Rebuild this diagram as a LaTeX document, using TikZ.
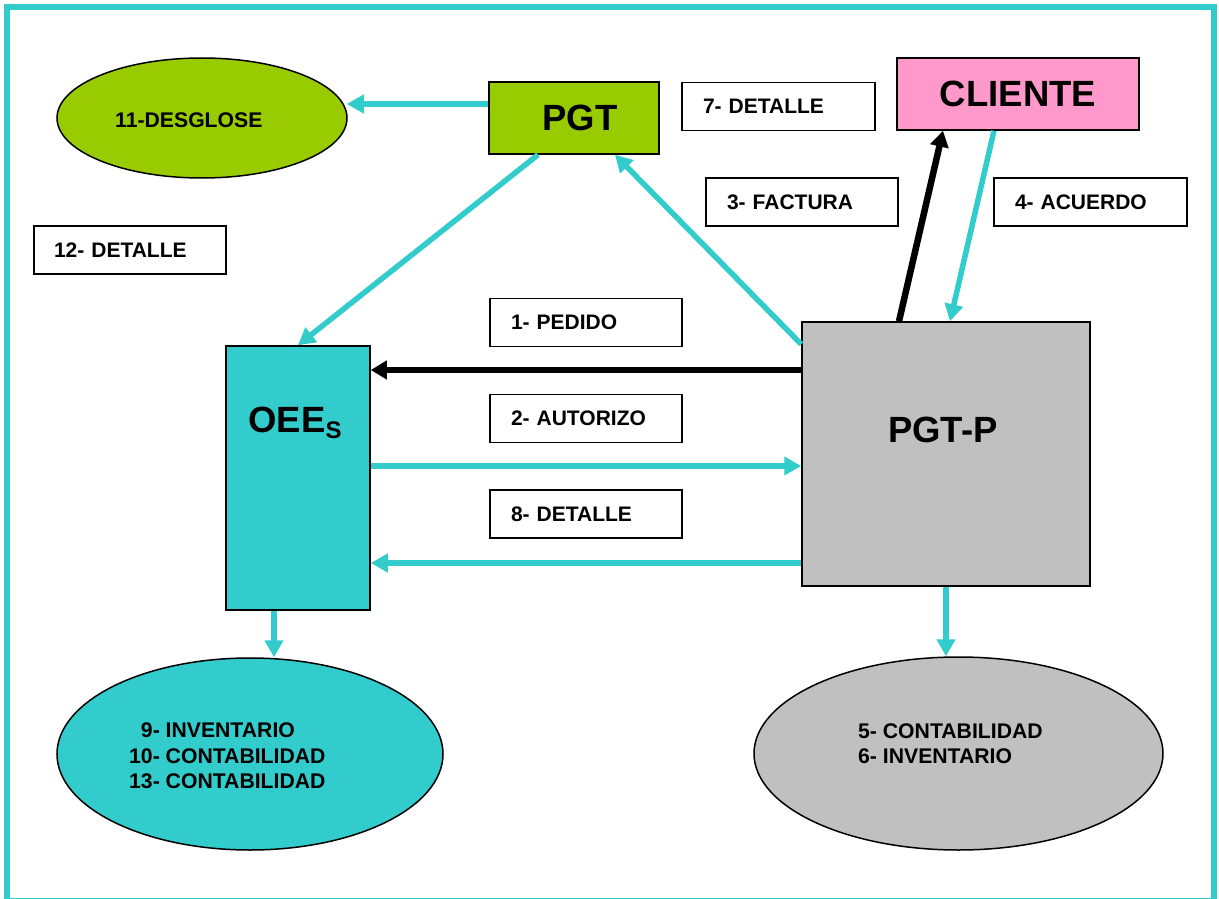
\documentclass[tikz,border=0pt]{standalone}
\usepackage{fontspec}
\setmainfont{Liberation Sans}
\usetikzlibrary{arrows.meta,shapes.geometric}
\definecolor{aquaC}{HTML}{33CCCC}
\definecolor{greenC}{HTML}{99CC00}
\definecolor{pinkC}{HTML}{FF99CC}
\definecolor{grayC}{HTML}{C0C0C0}
\begin{document}
\begin{tikzpicture}[x=1pt,y=-1pt,
  lbl/.style={draw=black, line width=1.5pt, fill=white, rectangle,
    minimum height=48pt, text width=150pt, inner xsep=21pt, inner ysep=0pt,
    align=left, font=\fontsize{21}{25}\selectfont\bfseries},
  bigbox/.style={draw=black, line width=1.5pt, rectangle, inner sep=0pt},
  bigtxt/.style={inner sep=0pt, font=\fontsize{36.5}{40}\selectfont\bfseries},
  oval/.style={draw=black, line width=1.5pt, ellipse, inner sep=0pt},
  ovaltxt/.style={inner sep=0pt, anchor=west, align=left,
    font=\fontsize{21.2}{25.5}\selectfont\bfseries},
  tarrow/.style={draw=aquaC, line width=5.5pt, -{Triangle[length=17pt,width=18pt]}},
  karrow/.style={draw=black, line width=6.5pt, -{Triangle[length=16pt,width=18pt]}}]
\useasboundingbox (0,0) rectangle (1219,899);

% outer frame
\draw[aquaC, line width=6pt] (7,7) rectangle (1214,901);

% main blocks
\node[bigbox, fill=greenC, minimum width=170pt, minimum height=72pt] (pgt) at (574,118)
  {\fontsize{36.5}{40}\selectfont\bfseries\hspace*{12pt}PGT};
\node[bigbox, fill=pinkC, minimum width=242pt, minimum height=72pt] (cliente) at (1018,94)
  {\fontsize{36.5}{40}\selectfont\bfseries CLIENTE};
\node[bigbox, fill=grayC, minimum width=288pt, minimum height=264pt] (pgtp) at (946,454) {};
\node[bigtxt] (pgtpt) at (943,430) {PGT-P};
\node[bigbox, fill=aquaC, minimum width=144pt, minimum height=264pt] (oees) at (298,478) {};
\node[bigtxt] (oeest) at (295,423) {OEE\raisebox{-6pt}{\fontsize{24}{24}\selectfont S}};

% ellipses
\node[oval, fill=greenC, minimum width=290pt, minimum height=120pt] (desglose) at (202,118) {};
\node[ovaltxt] (desgloset) at (115,120) {11-DESGLOSE};
\node[oval, fill=aquaC, minimum width=386pt, minimum height=192pt] (e9) at (250,754) {};
\node[ovaltxt] (e9t) at (129,756)
  {\phantom{1}9- INVENTARIO\\10- CONTABILIDAD\\13- CONTABILIDAD};
\node[oval, fill=grayC, minimum width=409pt, minimum height=193pt] (e5) at (958.5,753.5) {};
\node[ovaltxt] (e5t) at (858,743.5) {5- CONTABILIDAD\\6- INVENTARIO};

% labels
\node[lbl, text width=151pt] (d7) at (778.5,106.5) {7- DETALLE};
\node[lbl] (f3) at (802,202) {3- FACTURA};
\node[lbl, text width=151pt] (a4) at (1090.5,202) {4- ACUERDO};
\node[lbl, text width=152pt, inner xsep=20pt] (d12) at (130,250) {12- DETALLE};
\node[lbl] (p1) at (586,322.5) {1- PEDIDO};
\node[lbl] (a2) at (586,418.5) {2- AUTORIZO};
\node[lbl] (d8) at (586,514) {8- DETALLE};

% levels of the horizontal connectors
\coordinate (yPed) at (0,370);
\coordinate (yAut) at (0,466);
\coordinate (yDet) at (0,563);

% connectors
\draw[tarrow] ([yshift=14pt]pgt.west) -- ([yshift=14pt,xshift=-1pt]desglose.east);
\draw[tarrow] ([xshift=-36pt]pgt.south) -- (oees.north);
\draw[tarrow] ([yshift=-23pt]pgtp.north west) -- ([xshift=41pt]pgt.south);
\draw[karrow] ([xshift=-47pt]pgtp.north) -- ([xshift=-75pt]cliente.south);
\draw[tarrow] ([xshift=-24pt]cliente.south) -- ([xshift=4pt]pgtp.north);
\draw[karrow] (pgtp.west |- yPed) -- (oees.east |- yPed);
\draw[tarrow] (oees.east |- yAut) -- (pgtp.west |- yAut);
\draw[tarrow] (pgtp.west |- yDet) -- (oees.east |- yDet);
\coordinate (oeesOut) at ([xshift=-24pt]oees.south);
\draw[tarrow] (oeesOut) -- (oeesOut |- e9.north);
\draw[tarrow] (pgtp.south) -- (pgtp.south |- e5.north);
\end{tikzpicture}
\end{document}
